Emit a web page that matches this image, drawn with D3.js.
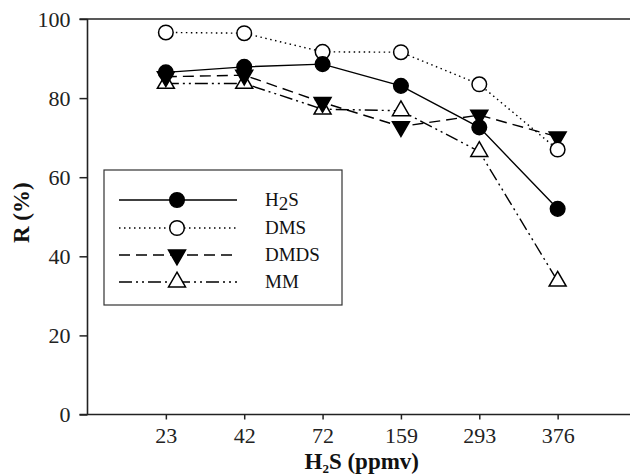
<!DOCTYPE html>
<html>
<head>
<meta charset="utf-8">
<script src="https://cdn.jsdelivr.net/npm/d3@7"></script>
<style>
  body { margin: 0; background: #fff; }
  svg text { font-family: "Liberation Serif", Tinos, "Times New Roman", Times, serif !important; }
</style>
</head>
<body>
<div id="chart"></div>
<script>
// concentrations on the x axis (categorical, evenly spaced)
var categories = ["23", "42", "72", "159", "293", "376"];
// removal efficiency R (%)
var h2s  = [86.5, 87.9, 88.6, 83.1, 72.6, 52.0];
var dms  = [96.6, 96.4, 91.7, 91.6, 83.5, 67.0];
var dmds = [85.4, 85.8, 78.9, 72.8, 75.7, 70.2];
var mm   = [83.7, 83.7, 77.2, 76.8, 66.5, 33.7];
var yTicks = [0, 20, 40, 60, 80, 100];

var series = [
    {name: "H2S",  values: h2s,  dash: null,              marker: "circle",  fill: "#000"},
    {name: "DMS",  values: dms,  dash: "1.5,3.5",         marker: "circle",  fill: "#fff"},
    {name: "DMDS", values: dmds, dash: "11,6",            marker: "tridown", fill: "#000"},
    {name: "MM",   values: mm,   dash: "13,4,2,4,2,4",    marker: "triup",   fill: "#fff"}
];

var width = 630, height = 475;
var plotLeft = 87.5, plotTop = 19, plotBottom = 414.5;

var svg = d3.select("#chart").append("svg")
    .attr("width", width)
    .attr("height", height);

// x: categories at 1..6 on a 0..7 linear scale
var x = d3.scaleLinear().domain([0, 7]).range([plotLeft, 636]);
var y = d3.scaleLinear().domain([0, 100]).range([plotBottom, plotTop]);

// axes
var xAxis = d3.axisBottom(x)
    .tickValues(d3.range(1, categories.length + 1))
    .tickFormat(function (d) { return categories[d - 1]; })
    .tickSize(5)
    .tickPadding(8);
var yAxis = d3.axisLeft(y)
    .tickValues(yTicks)
    .tickSize(8)
    .tickPadding(9);

var gx = svg.append("g")
    .attr("transform", "translate(0," + plotBottom + ")")
    .call(xAxis);
var gy = svg.append("g")
    .attr("transform", "translate(" + plotLeft + ",0)")
    .call(yAxis);

[gx, gy].forEach(function (g) {
    g.attr("font-family", null);
    g.select(".domain").remove();
    g.selectAll("line").attr("stroke", "#222").attr("stroke-width", 1.5);
    g.selectAll("text").attr("fill", "#222").style("font-size", "22px");
});

// frame lines: left, bottom, top (right side is cropped off)
svg.append("line").attr("x1", plotLeft).attr("x2", plotLeft).attr("y1", plotTop).attr("y2", plotBottom)
    .attr("stroke", "#222").attr("stroke-width", 1.6);
svg.append("line").attr("x1", plotLeft - 8).attr("x2", width).attr("y1", plotBottom).attr("y2", plotBottom)
    .attr("stroke", "#222").attr("stroke-width", 1.6);
svg.append("line").attr("x1", plotLeft - 8).attr("x2", width).attr("y1", plotTop).attr("y2", plotTop)
    .attr("stroke", "#222").attr("stroke-width", 1.6);

// axis titles
var xt = svg.append("text")
    .attr("x", x(3.5)).attr("y", 469)
    .attr("text-anchor", "middle")
    .style("font-size", "23px").style("font-weight", "bold").attr("fill", "#111");
xt.append("tspan").text("H");
xt.append("tspan").text("2").style("font-size", "13px").attr("dy", 4);
xt.append("tspan").text("S (ppmv)").attr("dy", -4);

svg.append("text")
    .attr("transform", "translate(29," + ((plotTop + plotBottom) / 2 - 4) + ") rotate(-90)")
    .attr("text-anchor", "middle")
    .style("font-size", "23px").style("font-weight", "bold").attr("fill", "#111")
    .text("R (%)");

// marker drawing
var triSym = d3.symbol().type(d3.symbolTriangle).size(125);

function drawMarker(g, s, cx, cy) {
    if (s.marker === "circle") {
        g.append("circle").attr("cx", cx).attr("cy", cy).attr("r", 7.3)
            .attr("fill", s.fill).attr("stroke", "#000").attr("stroke-width", 1.5);
    } else {
        var rot = s.marker === "tridown" ? 180 : 0;
        g.append("path").attr("d", triSym())
            .attr("transform", "translate(" + cx + "," + cy + ") rotate(" + rot + ")")
            .attr("fill", s.fill).attr("stroke", "#000").attr("stroke-width", 1.5);
    }
}

var line = d3.line()
    .x(function (d, i) { return x(i + 1); })
    .y(function (d) { return y(d); });

var plot = svg.append("g");
// lines first, then markers on top (reverse order so H2S ends up on top)
series.slice().reverse().forEach(function (s) {
    plot.append("path")
        .attr("d", line(s.values))
        .attr("fill", "none")
        .attr("stroke", "#000")
        .attr("stroke-width", 1.4)
        .attr("stroke-dasharray", s.dash);
});
series.slice().reverse().forEach(function (s) {
    s.values.forEach(function (v, i) { drawMarker(plot, s, x(i + 1), y(v)); });
});

// legend
var lg = svg.append("g");
lg.append("rect")
    .attr("x", 104).attr("y", 170).attr("width", 238).attr("height", 135)
    .attr("fill", "#fff").attr("stroke", "#333").attr("stroke-width", 1.2);

var rowY = [200, 228, 255, 282];
series.forEach(function (s, i) {
    var ry = rowY[i];
    lg.append("line").attr("x1", 119).attr("x2", 237).attr("y1", ry).attr("y2", ry)
        .attr("stroke", "#000").attr("stroke-width", 1.4).attr("stroke-dasharray", s.dash);
    drawMarker(lg, s, 177, ry);
    var t = lg.append("text").attr("x", 265).attr("y", ry + 6)
        .style("font-size", "19px").attr("fill", "#111");
    if (s.name === "H2S") {
        t.append("tspan").text("H");
        t.append("tspan").text("2").attr("dy", 4);
        t.append("tspan").text("S").attr("dy", -4);
    } else {
        t.text(s.name);
    }
});
</script>
</body>
</html>
